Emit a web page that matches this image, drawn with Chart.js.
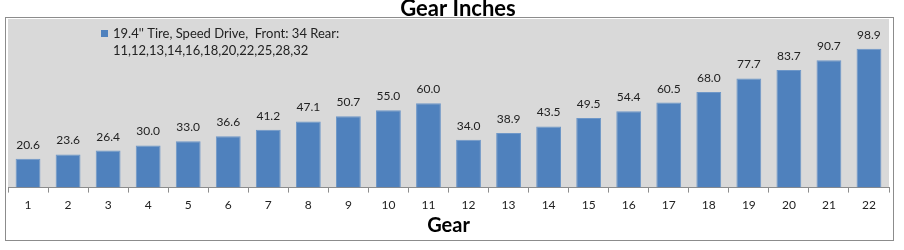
<!DOCTYPE html>
<html>
<head>
<meta charset="utf-8">
<script src="https://cdn.jsdelivr.net/npm/chart.js@4"></script>
<style>
  html, body { margin: 0; padding: 0; background: #fff; }
  #wrap { width: 904px; height: 250px; }
</style>
</head>
<body>
<div id="wrap"><canvas id="gearChart" width="904" height="250"></canvas></div>
<script>
const gears = ["1", "2", "3", "4", "5", "6", "7", "8", "9", "10", "11",
  "12", "13", "14", "15", "16", "17", "18", "19", "20", "21", "22"];
const gearInches = [20.6, 23.6, 26.4, 30.0, 33.0, 36.6, 41.2, 47.1, 50.7, 55.0, 60.0,
  34.0, 38.9, 43.5, 49.5, 54.4, 60.5, 68.0, 77.7, 83.7, 90.7, 98.9];
const seriesLabel = ["19.4'' Tire, Speed Drive,  Front: 34 Rear:", "11,12,13,14,16,18,20,22,25,28,32"];
const chartTitle = "Gear Inches";
const yMin = 0;
const yMax = 120;

const fontFamily = "Lato, 'Open Sans', sans-serif";

// frame, title, grey plot area, inside legend and value labels
const decorations = {
  id: "decorations",
  beforeDraw(chart) {
    const { ctx, chartArea } = chart;
    ctx.save();
    ctx.strokeStyle = "#8c8c8c";
    ctx.lineWidth = 1;
    ctx.strokeRect(5.5, 17.5, 888, 223);
    ctx.fillStyle = "#d9d9d9";
    ctx.fillRect(chartArea.left, chartArea.top, chartArea.right - chartArea.left, chartArea.bottom - chartArea.top);
    ctx.fillStyle = "#000";
    ctx.font = "bold 22px " + fontFamily;
    ctx.textAlign = "center";
    ctx.textBaseline = "alphabetic";
    ctx.fillText(chartTitle, 458, 16);
    ctx.restore();
  },
  afterDatasetsDraw(chart) {
    const { ctx } = chart;
    const meta = chart.getDatasetMeta(0);
    ctx.save();
    ctx.font = "12px " + fontFamily;
    ctx.fillStyle = "#222";
    ctx.textAlign = "center";
    ctx.textBaseline = "alphabetic";
    meta.data.forEach((bar, i) => {
      ctx.fillText(gearInches[i].toFixed(1), bar.x, bar.y - 10);
    });

    // legend
    const ds = chart.data.datasets[0];
    ctx.fillStyle = ds.backgroundColor;
    ctx.fillRect(101, 30, 7, 7);
    ctx.fillStyle = "#222";
    ctx.textAlign = "left";
    ctx.textBaseline = "middle";
    ctx.font = "13px " + fontFamily;
    ds.label.forEach((line, i) => {
      ctx.fillText(line, 113, 34 + i * 17);
    });
    ctx.restore();
  },
};

const ctx = document.getElementById("gearChart").getContext("2d");
new Chart(ctx, {
  type: "bar",
  data: {
    labels: gears,
    datasets: [
      {
        label: seriesLabel,
        data: gearInches,
        backgroundColor: "#4f81bd",
        borderColor: "#6e97c8",
        borderWidth: 1,
        barPercentage: 0.62,
        categoryPercentage: 1,
      },
    ],
  },
  options: {
    responsive: false,
    animation: false,
    layout: {
      padding: { left: 8, right: 15, top: 19, bottom: 16 },
    },
    plugins: {
      legend: { display: false },
      tooltip: { enabled: false },
      title: { display: false },
    },
    scales: {
      y: {
        display: false,
        min: yMin,
        max: yMax,
      },
      x: {
        grid: {
          display: true,
          drawOnChartArea: false,
          drawTicks: true,
          tickLength: 5,
          color: "#8c8c8c",
          offset: true,
        },
        border: { display: true, color: "#8c8c8c" },
        ticks: {
          color: "#222",
          font: { family: fontFamily, size: 12 },
          padding: 5,
          maxRotation: 0,
        },
        title: {
          display: true,
          text: "Gear",
          color: "#000",
          font: { family: fontFamily, size: 20, weight: "bold", lineHeight: 0.8 },
          padding: { top: 1, bottom: 0 },
        },
      },
    },
  },
  plugins: [decorations],
});
</script>
</body>
</html>
